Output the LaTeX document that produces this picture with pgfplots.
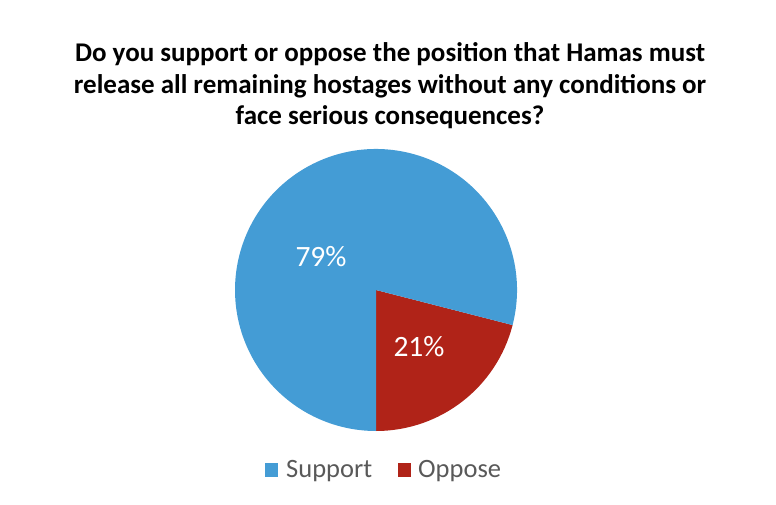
\documentclass[border=0pt]{standalone}
\usepackage{pgfplots}
\usepackage{pgfplotstable}
\pgfplotsset{compat=1.18}
\usepackage{fontspec}
\setmainfont{Carlito}
\definecolor{cblue}{HTML}{449CD5}
\definecolor{cred}{HTML}{B02318}
\definecolor{cgray}{HTML}{595959}
\pgfplotstableread{
label value
Support 79
Oppose 21
}\piedata
\begin{document}
\begin{tikzpicture}
\pgfplotstablegetelem{0}{value}\of\piedata \let\vS\pgfplotsretval
\pgfplotstablegetelem{1}{value}\of\piedata \let\vO\pgfplotsretval
\pgfmathsetmacro\aMid{-90+\vO*3.6}
\pgfmathsetmacro\aEnd{270}
\begin{axis}[
  width=776pt, height=504pt, scale only axis,
  xmin=0, xmax=776, ymin=0, ymax=504,
  axis lines=none, ticks=none, clip=false,
]
\addplot[draw=none, forget plot] coordinates {(0,0) (776,504)};
% wedges
\fill[cred] (axis cs:376,214) -- ++(-90:141pt) arc[start angle=-90, end angle=\aMid, radius=141pt] -- cycle;
\fill[cblue] (axis cs:376,214) -- ++(\aMid:141pt) arc[start angle=\aMid, end angle=\aEnd, radius=141pt] -- cycle;
% labels
\node[text=white, font=\fontsize{29.5}{34}\selectfont] at (axis cs:321,247) {\vS\%};
\node[text=white, font=\fontsize{29.5}{34}\selectfont] at (axis cs:419,157) {\vO\%};
% title
\node[align=center, font=\fontsize{27}{31.5}\selectfont\bfseries, anchor=base, inner sep=0pt] at (axis cs:390,379) {Do you support or oppose the position that Hamas must\\release all remaining hostages without any conditions or\\face serious consequences?};
% legend
\fill[cblue] (axis cs:265,27) rectangle (axis cs:278,41);
\node[anchor=base west, text=cgray, font=\fontsize{26.5}{30}\selectfont, inner sep=0pt] at (axis cs:286,27) {Support};
\fill[cred] (axis cs:398,27) rectangle (axis cs:411,41);
\node[anchor=base west, text=cgray, font=\fontsize{26.5}{30}\selectfont, inner sep=0pt] at (axis cs:418,27) {Oppose};
\end{axis}
\end{tikzpicture}
\end{document}
